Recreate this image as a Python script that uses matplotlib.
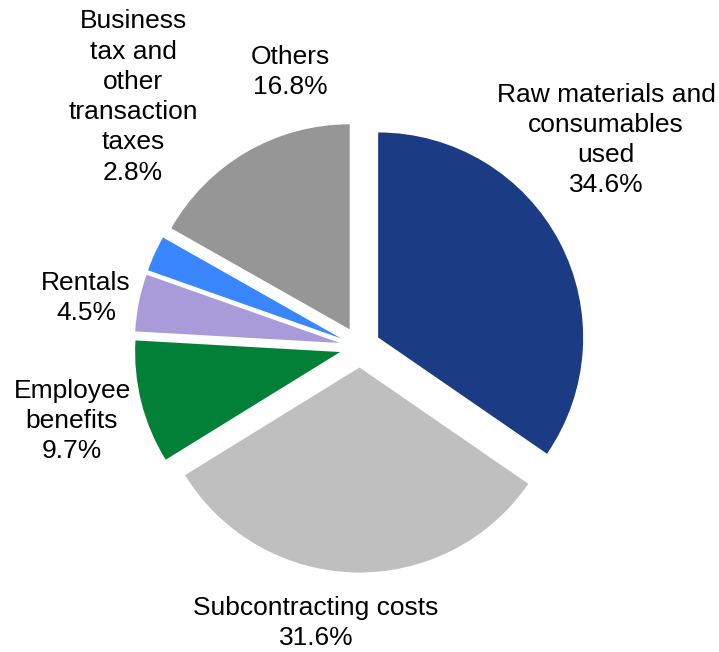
import matplotlib.pyplot as plt

plt.rcParams['font.family'] = ['Liberation Sans', 'DejaVu Sans']

# cost breakdown, clockwise from 12 o'clock
categories = [
    'Raw materials and\nconsumables\nused',
    'Subcontracting costs',
    'Employee\nbenefits',
    'Rentals',
    'Business\ntax and\nother\ntransaction\ntaxes',
    'Others',
]
shares = [34.6, 31.6, 9.7, 4.5, 2.8, 16.8]
colors = ['#1b3c84', '#bfbfbf', '#028037', '#a99ad9', '#3a86ff', '#969696']

# label block centres in figure pixels (x from left, y from top)
label_xy = [(606, 140), (316, 623), (72, 421), (86, 298), (133, 97), (290, 72)]

W, H = 719, 652
cx, cy, r = 360, 347, 205

fig = plt.figure(figsize=(W / 100, H / 100), dpi=100)
ax = fig.add_axes([0, 0, 1, 1])
ax.pie(
    shares,
    colors=colors,
    startangle=90,
    counterclock=False,
    explode=[0.1] * len(shares),
    radius=1,
    wedgeprops=dict(linewidth=0),
)
ax.set_xlim(-cx / r, (W - cx) / r)
ax.set_ylim(-(H - cy) / r, cy / r)
ax.set_aspect('equal')
ax.axis('off')

for name, val, (x, y) in zip(categories, shares, label_xy):
    fig.text(x / W, 1 - y / H, '{0}\n{1:.1f}%'.format(name, val),
             ha='center', va='center', fontsize=19, linespacing=1.33)

plt.savefig('out.png', dpi=100)
plt.close()
